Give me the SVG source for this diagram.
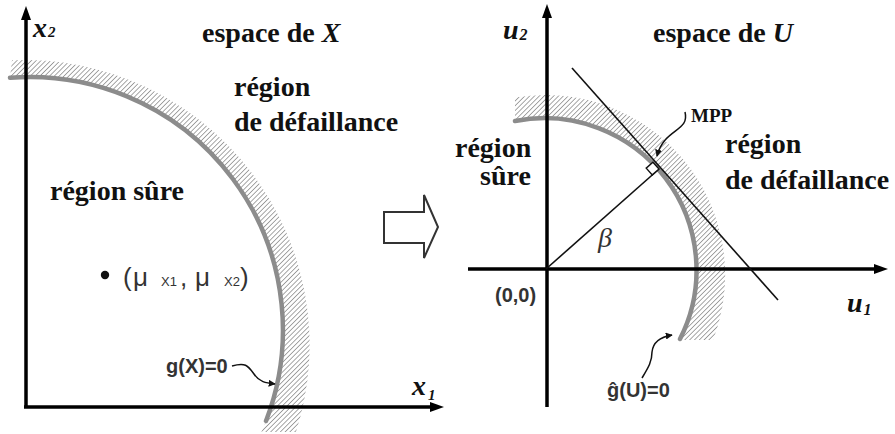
<svg xmlns="http://www.w3.org/2000/svg" width="895" height="434" viewBox="0 0 895 434">
<style>
.big{font-family:"Liberation Serif",serif;font-weight:bold;font-size:28px;fill:#111;}
.ax{font-family:"Liberation Serif",serif;font-weight:bold;font-style:italic;fill:#111;}
.sans{font-family:"Liberation Sans",Arial,sans-serif;font-weight:bold;font-size:20px;fill:#333;}
.axis{stroke:#000;stroke-width:3.5;fill:none;}
.lsf{stroke:#8c8c8c;stroke-width:4.5;fill:none;stroke-linecap:round;}
.thin{stroke:#111;stroke-width:1.6;fill:none;}
.ptr{stroke:#111;stroke-width:1.5;fill:none;marker-end:url(#ah);}
</style>
<defs>
<pattern id="hatch" width="3.4" height="3.4" patternUnits="userSpaceOnUse" patternTransform="rotate(45)">
<line x1="0" y1="0" x2="0" y2="3.4" stroke="#8a8a8a" stroke-width="1.5"/>
</pattern>
<marker id="ah" viewBox="0 0 10 10" refX="9" refY="5" markerWidth="7" markerHeight="7" markerUnits="userSpaceOnUse" orient="auto">
<path d="M0,0 L10,5 L0,10 Z" fill="#111"/>
</marker>
</defs>
<rect width="895" height="434" fill="#fff"/>

<g id="left-panel">
<g id="left-failure-band">
<path d="M10,77.8 A253 253 0 0 1 261.5,432 L296,432 A285 285 0 0 0 12,60.3 Z" fill="url(#hatch)"/>
<path class="lsf" d="M10,77.8 A253 253 0 0 1 266,421"/>
</g>
<g id="left-axes">
<line class="axis" x1="26" y1="18" x2="26" y2="407"/>
<line class="axis" x1="24" y1="407" x2="432" y2="407"/>
<polygon points="26,6 21,20 31,20" fill="#000"/>
<polygon points="444,407 430,402 430,412" fill="#000"/>
<text class="ax" x="33" y="37" font-size="28">x<tspan font-size="15" dx="1">2</tspan></text>
<text class="ax" x="412" y="395" font-size="28">x<tspan font-size="15" dy="5" dx="2">1</tspan></text>
</g>
<g id="left-title"><text class="big" x="202" y="42">espace de <tspan font-style="italic">X</tspan></text></g>
<g id="left-failure-label">
<text class="big" x="234" y="96">région</text>
<text class="big" x="234" y="131">de défaillance</text>
</g>
<g id="left-safe-label"><text class="big" x="50" y="200">région sûre</text></g>
<g id="mean-point">
<circle cx="105" cy="275" r="4.2" fill="#111"/>
<text font-family="Liberation Sans,Arial,sans-serif" font-size="26" fill="#333" y="286"><tspan x="123">(</tspan><tspan x="133">μ</tspan><tspan x="161" font-size="13">X1</tspan><tspan x="180">,</tspan><tspan x="195">μ</tspan><tspan x="224" font-size="13">X2</tspan><tspan x="240">)</tspan></text>
</g>
<g id="gx-label">
<text class="sans" x="166" y="373">g(X)=0</text>
<path class="ptr" d="M232,366 C246,362 248,366 254,374 C259,382 266,383 275,384"/>
</g>
</g>

<g id="transform-arrow">
<polygon points="384,212 424,212 424,195 438,227 424,258 424,243 384,243" fill="#fff" stroke="#333" stroke-width="2" stroke-linejoin="miter"/>
</g>

<g id="right-panel">
<g id="right-failure-band">
<path d="M515,121 A152 152 0 0 1 680,340 L713,340 A180 180 0 0 0 515,97.5 Z" fill="url(#hatch)"/>
<path class="lsf" d="M515,121 A152 152 0 0 1 680,339"/>
</g>
<g id="right-axes">
<line class="axis" x1="547" y1="16" x2="547" y2="407" stroke-width="3"/>
<line class="axis" x1="468" y1="269" x2="875" y2="269" stroke-width="3"/>
<polygon points="547,4 542,18 552,18" fill="#000"/>
<polygon points="888,269 874,264 874,274" fill="#000"/>
<text class="ax" x="503" y="39" font-size="28">u<tspan font-size="16" dx="1" dy="1">2</tspan></text>
<text class="ax" x="847" y="312" font-size="28">u<tspan font-size="16" dx="1" dy="3">1</tspan></text>
<text class="sans" x="495" y="302">(0,0)</text>
</g>
<g id="connectors">
<line class="thin" x1="572" y1="68" x2="778" y2="300"/>
<line class="thin" x1="546" y1="269" x2="659" y2="169"/>
<polygon points="659,169 652.3,174.9 646.2,168.1 652.9,162.2" fill="#fff" stroke="#111" stroke-width="1.4"/>
<path class="ptr" d="M685,112 C690,132 664,128 657,156"/>
<path class="ptr" d="M642,378 C648,368 652,362 652,352 C653,342 660,337 672,335"/>
</g>
<g id="beta-label"><text font-family="Liberation Serif,serif" font-style="italic" font-size="28" fill="#333" x="598" y="247">β</text></g>
<g id="right-title"><text class="big" x="653" y="42">espace de <tspan font-style="italic">U</tspan></text></g>
<g id="mpp-label"><text font-family="Liberation Serif,serif" font-weight="bold" font-size="19" fill="#111" x="691" y="122">MPP</text></g>
<g id="right-failure-label">
<text class="big" x="725" y="153">région</text>
<text class="big" x="725" y="189">de défaillance</text>
</g>
<g id="right-safe-label">
<text class="big" x="455" y="157">région</text>
<text class="big" x="480" y="185">sûre</text>
</g>
<g id="gu-label"><text class="sans" x="607" y="397">ĝ(U)=0</text></g>
</g>
</svg>
